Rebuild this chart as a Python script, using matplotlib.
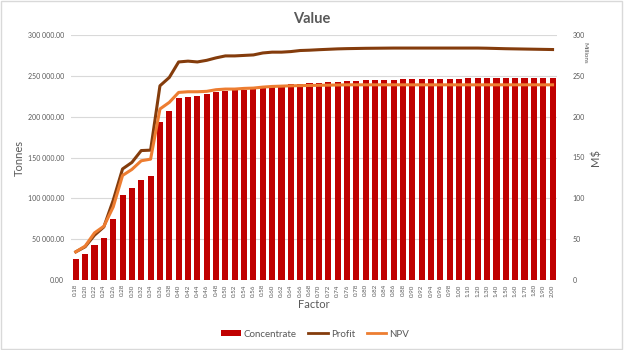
import matplotlib
matplotlib.use("Agg")
import matplotlib.pyplot as plt
import numpy as np
from matplotlib.ticker import FuncFormatter
from matplotlib.patches import Patch, Rectangle
from matplotlib.lines import Line2D

plt.rcParams['font.family'] = ['Lato', 'DejaVu Sans']

factors = ['0.18', '0.20', '0.22', '0.24', '0.26', '0.28', '0.30', '0.32', '0.34', '0.36',
           '0.38', '0.40', '0.42', '0.44', '0.46', '0.48', '0.50', '0.52', '0.54', '0.56',
           '0.58', '0.60', '0.62', '0.64', '0.66', '0.68', '0.70', '0.72', '0.74', '0.76',
           '0.78', '0.80', '0.82', '0.84', '0.86', '0.88', '0.90', '0.92', '0.94', '0.96',
           '0.98', '1.00', '1.10', '1.20', '1.30', '1.40', '1.50', '1.60', '1.70', '1.80',
           '1.90', '2.00']

# tonnes
concentrate = [25300, 31300, 42300, 52000, 74800, 104000, 113000, 123000, 127700, 194000,
               207400, 222400, 223600, 224900, 227300, 230600, 231000, 232600, 232600, 234600,
               235800, 235800, 238700, 240000, 240000, 240700, 241500, 242300, 242800, 243400,
               243900, 244300, 244700, 245000, 245300, 245600, 245800, 246000, 246200, 246300,
               246500, 246600, 246800, 247000, 247200, 247300, 247400, 247500, 247600, 247700,
               247800, 247900]

# M$ (millions)
profit = [34.5, 40.7, 54.9, 65.0, 97.6, 136.0, 144.0, 158.5, 159.0, 237.8,
          248.0, 267.0, 268.0, 267.0, 269.0, 272.0, 274.4, 274.4, 275.0, 275.6,
          278.0, 279.0, 279.0, 279.7, 281.0, 281.4, 282.0, 282.5, 283.0, 283.3,
          283.5, 283.7, 283.8, 283.9, 284.0, 284.0, 284.0, 284.0, 284.0, 284.0,
          284.0, 284.0, 284.0, 284.0, 283.8, 283.5, 283.2, 283.0, 282.8, 282.6,
          282.4, 282.2]

npv = [34.5, 41.5, 57.7, 65.8, 89.4, 128.0, 135.4, 146.0, 148.0, 209.4,
       217.5, 229.7, 230.5, 230.5, 231.0, 233.0, 233.8, 233.8, 234.6, 235.0,
       236.2, 237.0, 237.4, 237.8, 238.0, 238.2, 238.4, 238.6, 238.8, 239.0,
       239.0, 239.0, 239.0, 239.0, 239.0, 239.0, 239.0, 239.0, 239.0, 239.0,
       239.0, 239.0, 239.0, 239.0, 239.0, 239.0, 239.0, 239.0, 239.0, 239.0,
       239.0, 239.0]

grey = '#595959'
x = np.arange(len(factors))

fig = plt.figure(figsize=(6.24, 3.5), dpi=100)
fig.patches.append(Rectangle((0.002, 0.004), 0.994, 0.992, transform=fig.transFigure,
                             fill=False, edgecolor='#D9D9D9', linewidth=1))

ax = fig.add_axes([0.114, 0.2, 0.779, 0.7])
ax.bar(x, concentrate, width=0.65, color='#C00000', zorder=2)
ax.set_xlim(-0.5, len(factors) - 0.5)
ax.set_ylim(0, 300000)
ax.set_yticks(np.arange(0, 300001, 50000))
ax.yaxis.set_major_formatter(FuncFormatter(lambda v, p: f"{v:,.2f}".replace(",", " ")))
ax.grid(axis='y', color='#D9D9D9', linewidth=0.8, zorder=0)
ax.set_axisbelow(True)
ax.set_xticks(x)
ax.set_xticklabels(factors, rotation=90, fontsize=4.5, color=grey)
ax.tick_params(axis='y', labelsize=5, colors=grey, length=0, pad=5)
ax.tick_params(axis='x', length=0, pad=3)
for s in ax.spines.values():
    s.set_visible(False)
ax.set_ylabel('Tonnes', fontsize=8, color=grey, labelpad=2)
ax.set_xlabel('Factor', fontsize=8, color=grey, labelpad=2)

ax2 = ax.twinx()
ax2.plot(x, profit, color='#843C0C', linewidth=2.2, solid_joinstyle='round')
ax2.plot(x, npv, color='#ED7D31', linewidth=2.2, solid_joinstyle='round')
ax2.set_ylim(0, 300)
ax2.set_yticks(np.arange(0, 301, 50))
ax2.tick_params(axis='y', labelsize=5, colors=grey, length=0, pad=11)
for s in ax2.spines.values():
    s.set_visible(False)
ax2.set_ylabel('M$', fontsize=8, color=grey, labelpad=4)
fig.text(0.937, 0.85, 'Millions', rotation=270, fontsize=4.5, color=grey, ha='center', va='center')

fig.suptitle('Value', fontsize=10.5, fontweight='bold', color=grey, y=0.965)

handles = [Patch(facecolor='#C00000'),
           Line2D([0], [0], color='#843C0C', linewidth=2),
           Line2D([0], [0], color='#ED7D31', linewidth=2)]
fig.legend(handles, ['Concentrate', 'Profit', 'NPV'], loc='center', ncol=3,
           bbox_to_anchor=(0.505, 0.045), frameon=False, fontsize=7, labelcolor=grey,
           handlelength=2.0, handleheight=0.6, handletextpad=0.3, columnspacing=1.2)

fig.savefig('out.png', dpi=100)
